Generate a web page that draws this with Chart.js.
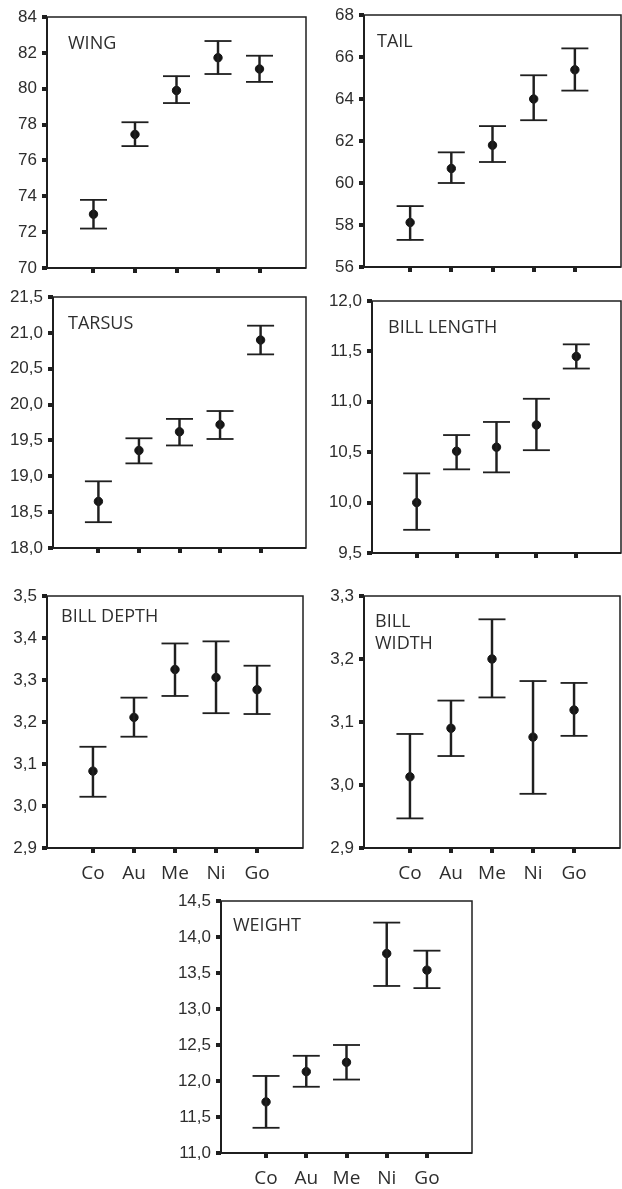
<!DOCTYPE html>
<html>
<head>
<meta charset="utf-8">
<script src="https://cdn.jsdelivr.net/npm/chart.js@4/dist/chart.umd.min.js"></script>
<style>
  body { margin: 0; background: #fff; }
  #wrap { position: relative; width: 622px; height: 1189px; overflow: hidden; }
  #wrap canvas { position: absolute; }
</style>
</head>
<body>
<div id="wrap"></div>
<script>
// population groups on the x axis
const groups = ['Co', 'Au', 'Me', 'Ni', 'Go'];

// means and lower / upper ends of the error bars
const wingMean = [73.0, 77.45, 79.9, 81.73, 81.1];
const wingLow = [72.2, 76.8, 79.2, 80.82, 80.38];
const wingHigh = [73.8, 78.13, 80.7, 82.66, 81.84];
const wingTicks = [70, 72, 74, 76, 78, 80, 82, 84];

const tailMean = [58.12, 60.69, 61.8, 64.0, 65.39];
const tailLow = [57.29, 60.0, 61.0, 62.99, 64.4];
const tailHigh = [58.9, 61.46, 62.71, 65.13, 66.41];
const tailTicks = [56, 58, 60, 62, 64, 66, 68];

const tarsusMean = [18.65, 19.36, 19.62, 19.72, 20.9];
const tarsusLow = [18.36, 19.18, 19.43, 19.52, 20.7];
const tarsusHigh = [18.93, 19.53, 19.8, 19.91, 21.1];
const tarsusTicks = [18.0, 18.5, 19.0, 19.5, 20.0, 20.5, 21.0, 21.5];

const billLengthMean = [10.0, 10.51, 10.55, 10.77, 11.45];
const billLengthLow = [9.73, 10.33, 10.3, 10.52, 11.33];
const billLengthHigh = [10.29, 10.67, 10.8, 11.03, 11.57];
const billLengthTicks = [9.5, 10.0, 10.5, 11.0, 11.5, 12.0];

const billDepthMean = [3.083, 3.211, 3.325, 3.306, 3.277];
const billDepthLow = [3.022, 3.165, 3.262, 3.221, 3.219];
const billDepthHigh = [3.141, 3.258, 3.387, 3.392, 3.334];
const billDepthTicks = [2.9, 3.0, 3.1, 3.2, 3.3, 3.4, 3.5];

const billWidthMean = [3.013, 3.09, 3.2, 3.076, 3.119];
const billWidthLow = [2.947, 3.046, 3.139, 2.986, 3.078];
const billWidthHigh = [3.081, 3.134, 3.263, 3.165, 3.162];
const billWidthTicks = [2.9, 3.0, 3.1, 3.2, 3.3];

const weightMean = [11.71, 12.13, 12.26, 13.77, 13.54];
const weightLow = [11.35, 11.92, 12.02, 13.32, 13.29];
const weightHigh = [12.07, 12.35, 12.5, 14.2, 13.81];
const weightTicks = [11.0, 11.5, 12.0, 12.5, 13.0, 13.5, 14.0, 14.5];

const INK = '#1f1f1f';
const TEXT = '#2e2e2e';

// canvas box, y-axis width, top/right padding, x-axis height, title offset
const panels = [
  { title: ['WING'], mean: wingMean, low: wingLow, high: wingHigh, ticks: wingTicks, dec: 0,
    box: [0, 0, 311, 280], yw: 47, top: 17, right: 5, xh: 12, tx: 21, ty: 32, labels: false },
  { title: ['TAIL'], mean: tailMean, low: tailLow, high: tailHigh, ticks: tailTicks, dec: 0,
    box: [311, 0, 311, 280], yw: 53, top: 15, right: 1, xh: 13, tx: 13, ty: 32, labels: false },
  { title: ['TARSUS'], mean: tarsusMean, low: tarsusLow, high: tarsusHigh, ticks: tarsusTicks, dec: 1,
    box: [0, 282, 311, 280], yw: 53, top: 15, right: 5, xh: 14, tx: 15, ty: 32, labels: false },
  { title: ['BILL LENGTH'], mean: billLengthMean, low: billLengthLow, high: billLengthHigh, ticks: billLengthTicks, dec: 1,
    box: [311, 282, 311, 285], yw: 61, top: 19, right: 1, xh: 14, tx: 16, ty: 32, labels: false },
  { title: ['BILL DEPTH'], mean: billDepthMean, low: billDepthLow, high: billDepthHigh, ticks: billDepthTicks, dec: 1,
    box: [0, 570, 311, 320], yw: 47, top: 26, right: 8, xh: 42, tx: 14, ty: 26, labels: true },
  { title: ['BILL', 'WIDTH'], mean: billWidthMean, low: billWidthLow, high: billWidthHigh, ticks: billWidthTicks, dec: 1,
    box: [311, 570, 311, 320], yw: 53, top: 26, right: 2, xh: 42, tx: 11, ty: 31, labels: true },
  { title: ['WEIGHT'], mean: weightMean, low: weightLow, high: weightHigh, ticks: weightTicks, dec: 1,
    box: [150, 880, 330, 309], yw: 71, top: 21, right: 8, xh: 36, tx: 12, ty: 30, labels: true }
];

// frame round the plot area plus the panel name inside it
const framePlugin = {
  id: 'frame',
  afterDraw(chart, args, opts) {
    const { ctx, chartArea: a } = chart;
    ctx.save();
    ctx.strokeStyle = INK;
    ctx.lineWidth = 1.5;
    ctx.strokeRect(a.left, a.top, a.right - a.left, a.bottom - a.top);
    ctx.lineWidth = 2;
    ctx.beginPath();
    ctx.moveTo(a.left, a.top);
    ctx.lineTo(a.left, a.bottom);
    ctx.lineTo(a.right, a.bottom);
    ctx.stroke();
    ctx.fillStyle = TEXT;
    ctx.font = '18px "Open Sans"';
    ctx.textBaseline = 'alphabetic';
    opts.lines.forEach((t, i) => ctx.fillText(t, a.left + opts.tx, a.top + opts.ty + i * 22));
    ctx.restore();
  }
};

const wrap = document.getElementById('wrap');

panels.forEach(p => {
  const cv = document.createElement('canvas');
  cv.width = p.box[2];
  cv.height = p.box[3];
  cv.style.left = p.box[0] + 'px';
  cv.style.top = p.box[1] + 'px';
  wrap.appendChild(cv);

  const bars = groups.map((g, i) => ({ x: i + 1, y: [p.low[i], p.high[i]] }));
  const caps = [];
  groups.forEach((g, i) => {
    caps.push({ x: i + 1, y: p.low[i] });
    caps.push({ x: i + 1, y: p.high[i] });
  });
  const means = groups.map((g, i) => ({ x: i + 1, y: p.mean[i] }));

  new Chart(cv, {
    type: 'bar',
    data: {
      datasets: [
        { type: 'bar', data: bars, backgroundColor: INK, barThickness: 1.8, borderWidth: 0 },
        { type: 'scatter', data: caps, pointStyle: 'line', pointRadius: 13.5,
          borderColor: INK, pointBorderWidth: 1.8 },
        { type: 'scatter', data: means, pointStyle: 'circle', pointRadius: 4.2,
          backgroundColor: '#151515', borderColor: '#151515', pointBorderWidth: 1 }
      ]
    },
    options: {
      responsive: false,
      animation: false,
      devicePixelRatio: 1,
      layout: { autoPadding: false, padding: { top: p.top, right: p.right, left: 0, bottom: 0 } },
      plugins: {
        legend: { display: false },
        tooltip: { enabled: false },
        frame: { lines: p.title, tx: p.tx, ty: p.ty }
      },
      scales: {
        x: {
          type: 'linear',
          min: -0.12,
          max: 6.12,
          offset: false,
          afterBuildTicks: s => { s.ticks = groups.map((g, i) => ({ value: i + 1 })); },
          afterFit: s => { s.height = p.xh; s.paddingLeft = 0; s.paddingRight = 0; },
          grid: { offset: false, drawOnChartArea: false, drawTicks: true, tickLength: 5, lineWidth: 4, color: INK },
          border: { display: false },
          ticks: {
            autoSkip: false,
            maxRotation: 0,
            padding: 9,
            color: TEXT,
            font: { family: '"Open Sans"', size: 19 },
            callback: (v, i) => p.labels ? groups[i] : ''
          }
        },
        y: {
          min: p.ticks[0],
          max: p.ticks[p.ticks.length - 1],
          afterBuildTicks: s => { s.ticks = p.ticks.map(v => ({ value: v })); },
          afterFit: s => { s.width = p.yw; s.paddingTop = 0; s.paddingBottom = 0; },
          grid: { drawOnChartArea: false, drawTicks: true, tickLength: 5, lineWidth: 4, color: INK },
          border: { display: false },
          ticks: {
            padding: 5,
            color: TEXT,
            font: { family: '"Liberation Sans", Arial', size: 17 },
            callback: v => v.toFixed(p.dec).replace('.', ',')
          }
        }
      }
    },
    plugins: [framePlugin]
  });
});
</script>
</body>
</html>
